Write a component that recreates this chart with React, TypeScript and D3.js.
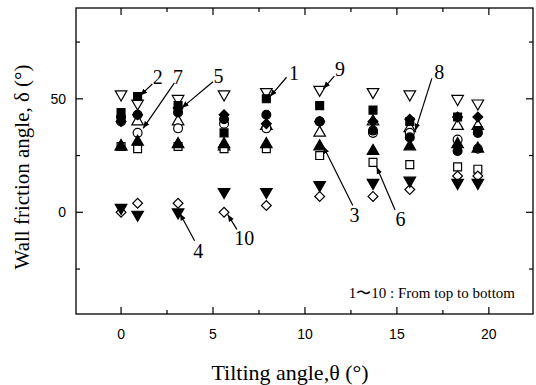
import React, { useEffect } from 'react';
import * as d3 from 'd3';

// tilting angle of each measuring column (deg)
const tiltAngles = [0, 0.9, 3.1, 5.6, 7.9, 10.8, 13.7, 15.7, 18.3, 19.4];

// wall friction angle for positions 1..10 (top to bottom)
const pos1 = [44, 51, 47, 35, 50, 47, 45, 40, 42, 36];
const pos2 = [42, 43, 44, 41, 43, 40, 36, 33, 27, 35];
const pos3 = [29, 31, 30, 30, 30, 29, 27, 29, 30, 28];
const pos4 = [2, -1, 0, 9, 9, 12, 13, 14, 13, 13];
const pos5 = [40, 43, 46, 43, 39, 40, 40, 41, 42, 42];
const pos6 = [29, 28, 29, 28, 28, 25, 22, 21, 20, 19];
const pos7 = [40, 35, 37, 39, 37, 40, 35, 35, 32, 28];
const pos8 = [29, 40, 40, 29, 38, 35, 40, 37, 38, 38];
const pos9 = [52, 48, 50, 52, 53, 54, 53, 52, 50, 48];
const pos10 = [0, 4, 4, 0, 3, 7, 7, 10, 16, 16];

const seriesValues = [pos1, pos2, pos3, pos4, pos5, pos6, pos7, pos8, pos9, pos10];
const markerKinds = ['square', 'circle', 'triUp', 'triDown', 'diamond', 'square', 'circle', 'triUp', 'triDown', 'diamond'];
const markerFilled = [true, true, true, true, true, false, false, false, false, false];

const xTicks = [0, 5, 10, 15, 20];
const xMinorTicks = [2.5, 7.5, 12.5, 17.5];
const yTicks = [0, 50];
const yMinorTicks = [-25, 25, 75];

// callout labels: text position and leader line, in data units
const calloutText = ['2', '7', '5', '1', '9', '8', '3', '6', '4', '10'];
const calloutPos = [[2.0, 59.5], [3.1, 59.5], [5.3, 60], [9.4, 61.5], [11.9, 63], [17.3, 62], [12.7, -1], [15.2, -3], [4.2, -17], [6.7, -11.5]];
const calloutFrom = [[1.7, 56.5], [2.9, 57], [5.0, 57.5], [9.0, 59.5], [11.6, 60], [16.9, 59], [12.6, 3], [14.9, 1], [4.0, -12.5], [6.3, -7.5]];
const calloutTo = [[1.05, 51.5], [1.2, 37], [3.3, 46], [8.1, 51], [11.0, 54.5], [16.0, 36], [11.0, 29], [13.9, 20], [3.2, -0.5], [5.8, -1]];

const App = () => {
  useEffect(() => {
    const svg = d3.select('#friction-plot');
    svg.selectAll('*').remove();

    const frame = { left: 76, right: 533, top: 8, bottom: 314 };

    const x = d3.scaleLinear().domain([-2.45, 22.4]).range([frame.left, frame.right]);
    const y = d3.scaleLinear().domain([-44.8, 90]).range([frame.bottom, frame.top]);

    const defs = svg.append('defs');
    defs.append('marker')
      .attr('id', 'arrow')
      .attr('viewBox', '0 0 10 10')
      .attr('refX', 10)
      .attr('refY', 5)
      .attr('markerWidth', 7)
      .attr('markerHeight', 7)
      .attr('markerUnits', 'userSpaceOnUse')
      .attr('orient', 'auto')
      .append('path')
      .attr('d', 'M0,1 L10,5 L0,9 Z')
      .attr('fill', '#000');

    // frame
    svg.append('rect')
      .attr('x', frame.left)
      .attr('y', frame.top)
      .attr('width', frame.right - frame.left)
      .attr('height', frame.bottom - frame.top)
      .attr('fill', 'none')
      .attr('stroke', '#000')
      .attr('stroke-width', 1.3);

    const ticks = svg.append('g').attr('stroke', '#000').attr('stroke-width', 1.2);
    const xAll = xTicks.map(v => ({ v, len: 7 })).concat(xMinorTicks.map(v => ({ v, len: 4 })));
    xAll.forEach(t => {
      ticks.append('line').attr('x1', x(t.v)).attr('x2', x(t.v)).attr('y1', frame.bottom).attr('y2', frame.bottom - t.len);
      ticks.append('line').attr('x1', x(t.v)).attr('x2', x(t.v)).attr('y1', frame.top).attr('y2', frame.top + t.len);
    });
    const yAll = yTicks.map(v => ({ v, len: 7 })).concat(yMinorTicks.map(v => ({ v, len: 4 })));
    yAll.forEach(t => {
      ticks.append('line').attr('y1', y(t.v)).attr('y2', y(t.v)).attr('x1', frame.left).attr('x2', frame.left + t.len);
      ticks.append('line').attr('y1', y(t.v)).attr('y2', y(t.v)).attr('x1', frame.right).attr('x2', frame.right - t.len);
    });

    // tick labels
    svg.append('g').selectAll('text')
      .data(xTicks)
      .enter().append('text')
      .attr('x', d => x(d))
      .attr('y', frame.bottom + 25)
      .attr('text-anchor', 'middle')
      .style('font-family', '"Liberation Sans", Arial, sans-serif')
      .style('font-size', '14px')
      .text(d => d);

    svg.append('g').selectAll('text')
      .data(yTicks)
      .enter().append('text')
      .attr('x', frame.left - 10)
      .attr('y', d => y(d) + 5)
      .attr('text-anchor', 'end')
      .style('font-family', '"Liberation Sans", Arial, sans-serif')
      .style('font-size', '14px')
      .text(d => d);

    // axis titles
    svg.append('text')
      .attr('x', 290)
      .attr('y', 380)
      .attr('text-anchor', 'middle')
      .style('font-family', '"Liberation Serif", "Times New Roman", serif')
      .style('font-size', '22px')
      .text('Tilting angle,θ (°)');

    svg.append('text')
      .attr('transform', `translate(29, ${(frame.top + frame.bottom) / 2 + 6}) rotate(-90)`)
      .attr('text-anchor', 'middle')
      .style('font-family', '"Liberation Serif", "Times New Roman", serif')
      .style('font-size', '21px')
      .text('Wall friction angle, δ (°)');

    // markers
    const shapeOf = kind => {
      if (kind === 'square') return d3.symbol().type(d3.symbolSquare).size(62)();
      if (kind === 'circle') return d3.symbol().type(d3.symbolCircle).size(62)();
      if (kind === 'diamond') return d3.symbol().type(d3.symbolSquare).size(48)();
      return d3.symbol().type(d3.symbolTriangle).size(58)();
    };
    const rotationOf = kind => (kind === 'triDown' ? 180 : kind === 'diamond' ? 45 : 0);

    const order = [8, 7, 6, 5, 9, 0, 1, 2, 3, 4];
    order.forEach(si => {
      const kind = markerKinds[si];
      svg.append('g').selectAll('path')
        .data(seriesValues[si].map((v, i) => [tiltAngles[i], v]))
        .enter().append('path')
        .attr('d', shapeOf(kind))
        .attr('transform', d => `translate(${x(d[0])},${y(d[1])}) rotate(${rotationOf(kind)})`)
        .attr('fill', markerFilled[si] ? '#000' : '#fff')
        .attr('stroke', '#000')
        .attr('stroke-width', 1.2);
    });

    // callouts
    const callouts = svg.append('g');
    calloutText.forEach((label, i) => {
      callouts.append('line')
        .attr('x1', x(calloutFrom[i][0]))
        .attr('y1', y(calloutFrom[i][1]))
        .attr('x2', x(calloutTo[i][0]))
        .attr('y2', y(calloutTo[i][1]))
        .attr('stroke', '#000')
        .attr('stroke-width', 1.2)
        .attr('marker-end', 'url(#arrow)');
      callouts.append('text')
        .attr('x', x(calloutPos[i][0]))
        .attr('y', y(calloutPos[i][1]) + 7)
        .attr('text-anchor', 'middle')
        .style('font-family', '"Liberation Serif", "Times New Roman", serif')
        .style('font-size', '20px')
        .text(label);
    });

    svg.append('text')
      .attr('x', x(16.9))
      .attr('y', y(-35.5) + 5)
      .attr('text-anchor', 'middle')
      .style('font-family', '"Liberation Serif", "Times New Roman", serif')
      .style('font-size', '15px')
      .text('1〜10 : From top to bottom');
  });

  return (
    <svg id="friction-plot" width="536" height="385" style={{ position: 'absolute', left: 0, top: 0, background: '#fff' }}></svg>
  );
};

export default App;
